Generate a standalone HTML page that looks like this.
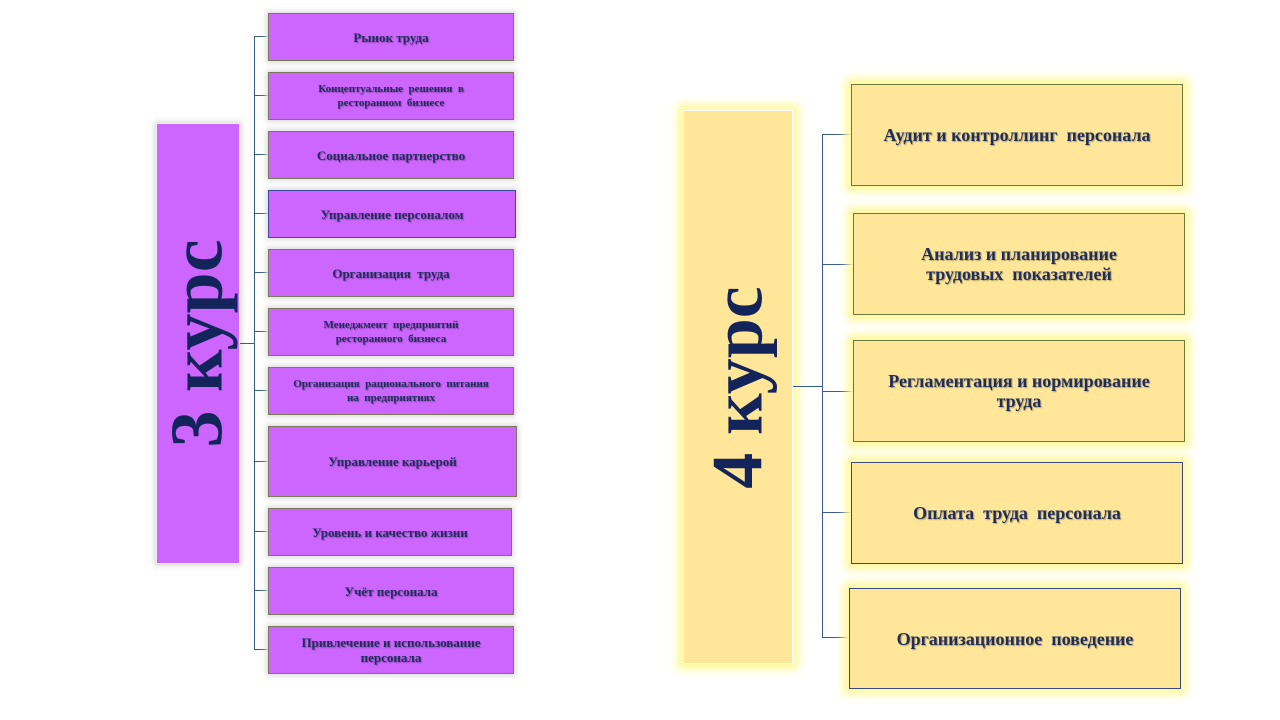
<!DOCTYPE html>
<html><head><meta charset="utf-8"><style>
body{margin:0;width:1280px;height:720px;background:#fff;position:relative;overflow:hidden;font-family:"Liberation Serif",serif;font-weight:bold;color:#1f2d5c}
.p{position:absolute;background:#cc66ff;border:1px solid #7a7a5a;box-shadow:0 0 5px 2px #ddd;display:flex;align-items:center;justify-content:center;text-align:center;font-size:13px;line-height:15px;box-sizing:border-box;text-shadow:1px 1px 1px rgba(0,0,0,.3)}
.y{position:absolute;background:#ffe699;border:1px solid #6b7a3a;box-shadow:0 0 8px 6px #fff9a0;display:flex;align-items:center;justify-content:center;text-align:center;font-size:18px;line-height:20px;box-sizing:border-box;text-shadow:1px 1px 1px rgba(0,0,0,.3)}
.l{position:absolute;background:#3b5a8c}
.big{position:absolute;display:flex;align-items:center;justify-content:center;box-sizing:border-box}
.big span{transform:rotate(-90deg);white-space:nowrap;color:#12245a}
</style></head><body>
<div class="big" style="left:156px;top:123px;width:84px;height:441px;background:#cc66ff;border:1px solid #eee;box-shadow:0 0 5px 2px #ddd"><span style="font-size:74px">3 курс</span></div>
<div class="l" style="left:254px;top:36px;width:1px;height:614px"></div>
<div class="l" style="left:240px;top:343px;width:15px;height:1px"></div>
<div class="l" style="left:254px;top:36px;width:14px;height:1px"></div>
<div class="l" style="left:254px;top:95px;width:14px;height:1px"></div>
<div class="l" style="left:254px;top:154px;width:14px;height:1px"></div>
<div class="l" style="left:254px;top:213px;width:14px;height:1px"></div>
<div class="l" style="left:254px;top:272px;width:14px;height:1px"></div>
<div class="l" style="left:254px;top:331px;width:14px;height:1px"></div>
<div class="l" style="left:254px;top:390px;width:14px;height:1px"></div>
<div class="l" style="left:254px;top:461px;width:14px;height:1px"></div>
<div class="l" style="left:254px;top:531px;width:14px;height:1px"></div>
<div class="l" style="left:254px;top:590px;width:14px;height:1px"></div>
<div class="l" style="left:254px;top:649px;width:14px;height:1px"></div>
<div class="p" style="left:268px;top:13px;width:246px;height:48px">Рынок труда</div>
<div class="p" style="left:268px;top:72px;width:246px;height:48px;font-size:11px;line-height:14px">Концептуальные&nbsp; решения&nbsp; в<br>ресторанном&nbsp; бизнесе</div>
<div class="p" style="left:268px;top:131px;width:246px;height:48px">Социальное партнерство</div>
<div class="p" style="left:268px;top:190px;width:248px;height:48px;border-color:#3b4a9c">Управление персоналом</div>
<div class="p" style="left:268px;top:249px;width:246px;height:48px">Организация&nbsp; труда</div>
<div class="p" style="left:268px;top:308px;width:246px;height:48px;font-size:11px;line-height:14px">Менеджмент&nbsp; предприятий<br>ресторанного&nbsp; бизнеса</div>
<div class="p" style="left:268px;top:367px;width:246px;height:48px;font-size:11px;line-height:14px">Организация&nbsp; рационального&nbsp; питания<br>на&nbsp; предприятиях</div>
<div class="p" style="left:268px;top:426px;width:249px;height:71px">Управление карьерой</div>
<div class="p" style="left:268px;top:508px;width:244px;height:48px">Уровень и качество жизни</div>
<div class="p" style="left:268px;top:567px;width:246px;height:48px">Учёт персонала</div>
<div class="p" style="left:268px;top:626px;width:246px;height:48px">Привлечение и использование<br>персонала</div>

<div class="big" style="left:683px;top:110px;width:110px;height:554px;background:#ffe699;border:1px solid #fff;box-shadow:0 0 8px 6px #fff9a0"><span style="font-size:72px">4 курс</span></div>
<div class="l" style="left:822px;top:134px;width:1px;height:504px"></div>
<div class="l" style="left:793px;top:386px;width:30px;height:1px"></div>
<div class="l" style="left:822px;top:134px;width:29px;height:1px"></div>
<div class="l" style="left:822px;top:264px;width:31px;height:1px"></div>
<div class="l" style="left:822px;top:391px;width:31px;height:1px"></div>
<div class="l" style="left:822px;top:512px;width:29px;height:1px"></div>
<div class="l" style="left:822px;top:637px;width:27px;height:1px"></div>
<div class="y" style="left:851px;top:84px;width:332px;height:102px;align-items:flex-start;padding-top:40px">Аудит и контроллинг&nbsp; персонала</div>
<div class="y" style="left:853px;top:213px;width:332px;height:102px">Анализ и планирование<br>трудовых&nbsp; показателей</div>
<div class="y" style="left:853px;top:340px;width:332px;height:102px">Регламентация и нормирование<br>труда</div>
<div class="y" style="left:851px;top:462px;width:332px;height:102px;border-color:#3b4a7c">Оплата&nbsp; труда&nbsp; персонала</div>
<div class="y" style="left:849px;top:588px;width:332px;height:101px;border-color:#3b4a7c">Организационное&nbsp; поведение</div>
</body></html>
